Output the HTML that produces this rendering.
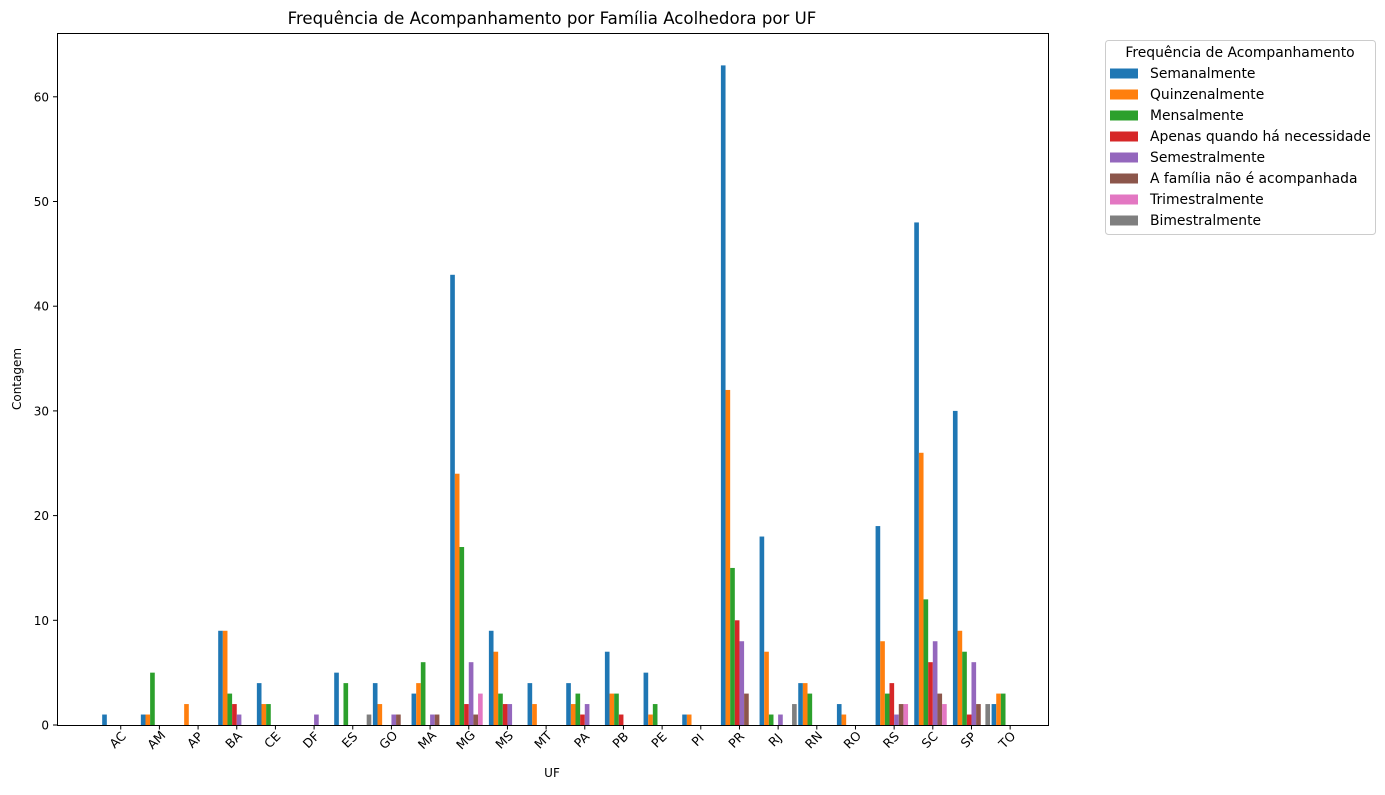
<!DOCTYPE html>
<html><head><meta charset="utf-8"><style>
body{margin:0;background:#fff;font-family:"Liberation Sans","DejaVu Sans",sans-serif;}
svg text{font-family:"DejaVu Sans","Liberation Sans",sans-serif;}
</style></head><body>
<svg id="chart" width="1385" height="790" xmlns="http://www.w3.org/2000/svg">
<rect width="1385" height="790" fill="#fff"/>
<text x="552" y="24" font-size="16.6" text-anchor="middle" fill="#000">Frequência de Acompanhamento por Família Acolhedora por UF</text>
<g id="bars"></g>
<g id="axes"></g>
<rect x="57.5" y="33.5" width="991" height="692" fill="none" stroke="#000" stroke-width="1"/>
<text x="552" y="777" font-size="12" text-anchor="middle">UF</text>
<text x="21" y="379" font-size="12" text-anchor="middle" transform="rotate(-90 21 379)">Contagem</text>
<g id="legend"></g>
</svg>
<script>
const categories=["AC","AM","AP","BA","CE","DF","ES","GO","MA","MG","MS","MT","PA","PB","PE","PI","PR","RJ","RN","RO","RS","SC","SP","TO"];
const seriesNames=["Semanalmente","Quinzenalmente","Mensalmente","Apenas quando há necessidade","Semestralmente","A família não é acompanhada","Trimestralmente","Bimestralmente"];
const semanal=[1,1,0,9,4,0,5,4,3,43,9,4,4,7,5,1,63,18,4,2,19,48,30,2];
const quinzenal=[0,1,2,9,2,0,0,2,4,24,7,2,2,3,1,1,32,7,4,1,8,26,9,3];
const mensal=[0,5,0,3,2,0,4,0,6,17,3,0,3,3,2,0,15,1,3,0,3,12,7,3];
const apenas=[0,0,0,2,0,0,0,0,0,2,2,0,1,1,0,0,10,0,0,0,4,6,1,0];
const semestral=[0,0,0,1,0,1,0,1,1,6,2,0,2,0,0,0,8,1,0,0,1,8,6,0];
const naoAcomp=[0,0,0,0,0,0,0,1,1,1,0,0,0,0,0,0,3,0,0,0,2,3,2,0];
const trimestral=[0,0,0,0,0,0,0,0,0,3,0,0,0,0,0,0,0,0,0,0,2,2,0,0];
const bimestral=[0,0,0,0,0,0,1,0,0,0,0,0,0,0,0,0,0,2,0,0,0,0,2,0];
const yTicks=[0,10,20,30,40,50,60];
const colors=["#1f77b4","#ff7f0e","#2ca02c","#d62728","#9467bd","#8c564b","#e377c2","#7f7f7f"];
const allSeries=[semanal,quinzenal,mensal,apenas,semestral,naoAcomp,trimestral,bimestral];
const NS="http://www.w3.org/2000/svg";
const unit=38.67, x0=104.5, barW=0.12;
function xScale(v){return x0+v*unit;}
function yScale(v){return 725-v*10.47;}
function mk(tag,attrs,parent){const e=document.createElementNS(NS,tag);for(const k in attrs)e.setAttribute(k,attrs[k]);parent.appendChild(e);return e;}
const gb=document.getElementById('bars'),ga=document.getElementById('axes'),gl=document.getElementById('legend');
allSeries.forEach((s,si)=>{s.forEach((v,ci)=>{if(v<=0)return;
 const cx=xScale(ci+si*barW);
 const r=mk('rect',{x:cx-barW*unit/2,y:yScale(v),width:barW*unit,height:yScale(0)-yScale(v),fill:colors[si]},gb);
 
 
});});
categories.forEach((c,ci)=>{const tx=xScale(ci+3.5*barW);
 const l=mk('line',{x1:tx,x2:tx,y1:725,y2:729.5,stroke:'#000'},ga);
 
 
 const t=mk('text',{x:tx,y:743,'font-size':12.5,'text-anchor':'middle',transform:`rotate(-45 ${tx} 743)`},ga);
 t.textContent=c;
 
 
});
yTicks.forEach(v=>{const y=yScale(v);
 const l=mk('line',{x1:53,x2:57.5,y1:y,y2:y,stroke:'#000'},ga);
 
 
 const t=mk('text',{x:49,y:y+4.5,'font-size':12,'text-anchor':'end'},ga);
 t.textContent=v;
 
 
});
const box=mk('rect',{x:1105.5,y:40.5,width:270,height:194,rx:3,fill:'#fff',stroke:'#ccc'},gl);


const lt=mk('text',{x:1240,y:57,'font-size':13.9,'text-anchor':'middle'},gl);
lt.textContent="Frequência de Acompanhamento";


seriesNames.forEach((n,i)=>{const y=73+i*21;
 const sw=mk('rect',{x:1110,y:y-4.5,width:28,height:10,fill:colors[i]},gl);
 
 
 const t=mk('text',{x:1150,y:y+5,'font-size':13.9},gl);
 t.textContent=n;
 
 
});
</script>
</body></html>
